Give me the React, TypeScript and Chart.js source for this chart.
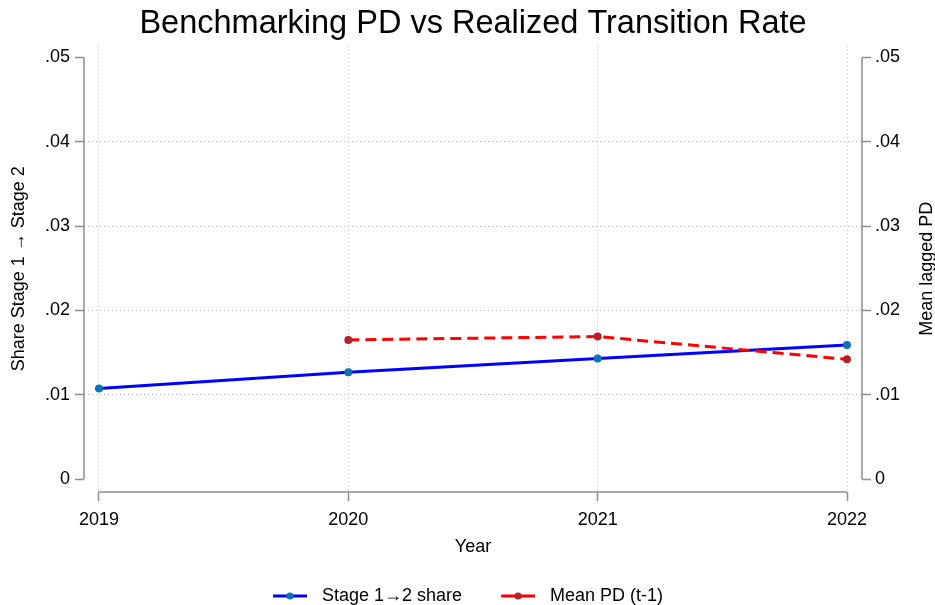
import React, { useEffect, useRef } from 'react';
import { Chart, registerables } from 'chart.js';

Chart.register(...registerables);

// ---- data ----
const years = [2019, 2020, 2021, 2022];
const xTickLabels = ['2019', '2020', '2021', '2022'];
const shareValues = [0.01075, 0.01265, 0.0143, 0.0159];
const pdValues: (number | null)[] = [null, 0.0165, 0.0169, 0.0142];
const yTicks = [0, 0.01, 0.02, 0.03, 0.04, 0.05];
const yTickLabels = ['0', '.01', '.02', '.03', '.04', '.05'];
const seriesNames = ['Stage 1\u21922 share', 'Mean PD (t-1)'];
const titleText = 'Benchmarking PD vs Realized Transition Rate';
const leftAxisTitle = 'Share Stage 1 \u2192 Stage 2';
const rightAxisTitle = 'Mean lagged PD';
const xAxisTitle = 'Year';

const FONT = "'Liberation Sans', Arial, Helvetica, sans-serif";
const AXIS_GRAY = '#8f8f8f';
const GRID_GRAY = '#bdbdbd';
const BLUE_LINE = '#0000ff';
const BLUE_DOT = '#0a72b8';
const RED_LINE = '#ff0000';
const RED_DOT = '#b51f2e';

function makeLegendSwatch(line: string, dot: string) {
  const c = document.createElement('canvas');
  c.width = 69;
  c.height = 10;
  const g = c.getContext('2d')!;
  g.strokeStyle = line;
  g.lineWidth = 3;
  g.beginPath();
  g.moveTo(29, 5);
  g.lineTo(63, 5);
  g.stroke();
  g.fillStyle = dot;
  g.beginPath();
  g.arc(46, 5, 3.6, 0, Math.PI * 2);
  g.fill();
  return c;
}

const axisPlugin = {
  id: 'stataAxes',
  afterDraw(chart: any) {
    const { ctx, chartArea, scales } = chart;
    const x = scales.x;
    const y = scales.y;
    ctx.save();
    ctx.strokeStyle = AXIS_GRAY;
    ctx.lineWidth = 1.5;
    ctx.setLineDash([]);
    const y0 = y.getPixelForValue(yTicks[0]);
    const y1 = y.getPixelForValue(yTicks[yTicks.length - 1]);
    ctx.beginPath();
    ctx.moveTo(chartArea.left, y0);
    ctx.lineTo(chartArea.left, y1);
    ctx.moveTo(chartArea.right, y0);
    ctx.lineTo(chartArea.right, y1);
    ctx.moveTo(x.getPixelForValue(years[0]), chartArea.bottom);
    ctx.lineTo(x.getPixelForValue(years[years.length - 1]), chartArea.bottom);
    ctx.stroke();
    // right axis title, reading bottom to top
    ctx.translate(927, (chartArea.top + chartArea.bottom) / 2);
    ctx.rotate(-Math.PI / 2);
    ctx.fillStyle = '#000';
    ctx.font = `18px ${FONT}`;
    ctx.textAlign = 'center';
    ctx.textBaseline = 'middle';
    ctx.fillText(rightAxisTitle, 0, 0);
    ctx.restore();
  },
};

export default function App() {
  const ref = useRef<HTMLCanvasElement | null>(null);

  useEffect(() => {
    if (!ref.current) return;
    Chart.defaults.font.family = FONT;
    Chart.defaults.color = '#000';

    const pxPerYear = 748 / (years[years.length - 1] - years[0]);
    const xPad = 15 / pxPerYear;
    const pxPerUnit = 422 / 0.05;
    const yMin = -13 / pxPerUnit;
    const yMax = 0.05 + 12 / pxPerUnit;

    const legendItems = [
      {
        text: seriesNames[0],
        pointStyle: makeLegendSwatch(BLUE_LINE, BLUE_DOT),
        fillStyle: BLUE_DOT,
        strokeStyle: BLUE_LINE,
        lineWidth: 0,
        hidden: false,
        datasetIndex: 1,
      },
      {
        text: seriesNames[1],
        pointStyle: makeLegendSwatch(RED_LINE, RED_DOT),
        fillStyle: RED_DOT,
        strokeStyle: RED_LINE,
        lineWidth: 0,
        hidden: false,
        datasetIndex: 0,
      },
    ];

    const yTickCallback = (_v: any, i: number) => yTickLabels[i];

    const chart = new Chart(ref.current, {
      type: 'line',
      data: {
        datasets: [
          {
            label: seriesNames[1],
            data: years.map((yr, i) => ({ x: yr, y: pdValues[i] })),
            yAxisID: 'y2',
            borderColor: RED_LINE,
            borderWidth: 3,
            borderDash: [11, 6],
            pointRadius: 4,
            pointBorderWidth: 0,
            pointBackgroundColor: RED_DOT,
            pointBorderColor: RED_DOT,
            tension: 0,
            order: 0,
          },
          {
            label: seriesNames[0],
            data: years.map((yr, i) => ({ x: yr, y: shareValues[i] })),
            yAxisID: 'y',
            borderColor: BLUE_LINE,
            borderWidth: 3,
            pointRadius: 4,
            pointBorderWidth: 0,
            pointBackgroundColor: BLUE_DOT,
            pointBorderColor: BLUE_DOT,
            tension: 0,
            order: 1,
          },
        ],
      } as any,
      options: {
        responsive: false,
        animation: false,
        devicePixelRatio: 1,
        layout: { padding: { left: 0, right: 28, top: 0, bottom: 0 } },
        plugins: {
          title: {
            display: true,
            text: titleText,
            fullSize: false,
            color: '#000',
            font: { size: 32.5, weight: 'normal', family: FONT },
            padding: { top: 4.5, bottom: 2 },
          },
          legend: {
            position: 'bottom',
            maxHeight: 28,
            labels: {
              usePointStyle: true,
              pointStyleWidth: 69,
              padding: 10,
              color: '#000',
              font: { size: 18, family: FONT },
              generateLabels: () => legendItems as any,
            },
          },
          tooltip: { enabled: false },
        },
        scales: {
          x: {
            type: 'linear',
            position: 'bottom',
            min: years[0] - xPad,
            max: years[years.length - 1] + xPad,
            afterBuildTicks: (s: any) => {
              s.ticks = years.map((v) => ({ value: v }));
            },
            afterFit: (s: any) => {
              s.height = 85;
            },
            ticks: {
              callback: (_v: any, i: number) => xTickLabels[i],
              font: { size: 18 },
              color: '#000',
              padding: 8.5,
              maxRotation: 0,
              autoSkip: false,
            },
            grid: {
              color: GRID_GRAY,
              lineWidth: 1,
              tickColor: AXIS_GRAY,
              tickLength: 9,
              tickWidth: 1.5,
            },
            border: { display: false, dash: [1, 3] },
            title: {
              display: true,
              text: xAxisTitle,
              color: '#000',
              font: { size: 18 },
              padding: { top: 0, bottom: 19 },
            },
          },
          y: {
            type: 'linear',
            position: 'left',
            min: yMin,
            max: yMax,
            afterBuildTicks: (s: any) => {
              s.ticks = yTicks.map((v) => ({ value: v }));
            },
            afterFit: (s: any) => {
              s.width = 84;
            },
            ticks: {
              callback: yTickCallback,
              font: { size: 18 },
              color: '#000',
              padding: 5,
              autoSkip: false,
            },
            grid: {
              color: (c: any) =>
                c.tick && (c.tick.value === yTicks[0] || c.tick.value === yTicks[yTicks.length - 1])
                  ? 'rgba(0,0,0,0)'
                  : GRID_GRAY,
              lineWidth: 1,
              tickColor: AXIS_GRAY,
              tickLength: 9,
              tickWidth: 1.5,
            },
            border: { display: false, dash: [1, 3] },
            title: {
              display: true,
              text: leftAxisTitle,
              color: '#000',
              font: { size: 18 },
              padding: { top: 8, bottom: 0 },
            },
          },
          y2: {
            type: 'linear',
            position: 'right',
            min: yMin,
            max: yMax,
            afterBuildTicks: (s: any) => {
              s.ticks = yTicks.map((v) => ({ value: v }));
            },
            afterFit: (s: any) => {
              s.width = 45;
            },
            ticks: {
              callback: yTickCallback,
              font: { size: 18 },
              color: '#000',
              padding: 4,
              autoSkip: false,
            },
            grid: {
              drawOnChartArea: false,
              tickColor: AXIS_GRAY,
              tickLength: 9,
              tickWidth: 1.5,
            },
            border: { display: false },
            title: { display: false },
          },
        },
      } as any,
      plugins: [axisPlugin],
    });

    return () => chart.destroy();
  }, []);

  return (
    <div style={{ position: 'absolute', left: 0, top: 0, width: 935, height: 605, background: '#fff' }}>
      <canvas ref={ref} width={935} height={605} style={{ display: 'block' }} />
    </div>
  );
}
